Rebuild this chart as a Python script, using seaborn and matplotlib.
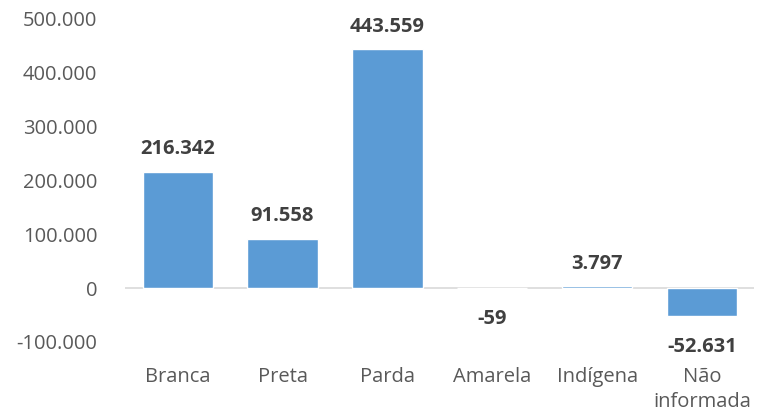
import matplotlib.pyplot as plt
import pandas as pd
import seaborn as sns
from matplotlib.ticker import FuncFormatter

sns.set_theme(style="white")
plt.rcParams['font.family'] = ['Open Sans', 'DejaVu Sans']

categorias = ["Branca", "Preta", "Parda", "Amarela", "Indígena", "Não\ninformada"]
valores = [216342, 91558, 443559, -59, 3797, -52631]
yticks = [-100000, 0, 100000, 200000, 300000, 400000, 500000]


def fmt_br(v, pos=None):
    s = f"{abs(int(round(v))):,}".replace(",", ".")
    return ("-" if v < 0 else "") + s


if __name__ == "__main__":
    df = pd.DataFrame({"cor": categorias, "valor": valores})

    fig = plt.figure(figsize=(7.59, 4.12), dpi=100)
    ax = fig.add_axes([0.165, 0.170, 0.829, 0.784])

    sns.barplot(x="cor", y="valor", data=df, color="#5B9BD5", saturation=1,
                width=0.67, ax=ax)

    ax.set_ylim(-100000, 500000)
    ax.set_yticks(yticks)
    ax.yaxis.set_major_formatter(FuncFormatter(fmt_br))
    ax.axhline(0, color="#D9D9D9", lw=1.2, zorder=0)

    for s in ax.spines.values():
        s.set_visible(False)
    ax.tick_params(axis="y", length=0, labelsize=14.5, labelcolor="#595959", pad=20)
    ax.tick_params(axis="x", length=0, labelsize=14.5, labelcolor="#595959", pad=18)
    ax.set_xlabel("")
    ax.set_ylabel("")
    for lbl in ax.get_xticklabels():
        lbl.set_linespacing(1.35)

    for i, v in enumerate(valores):
        if v >= 0:
            ax.annotate(fmt_br(v), (i, v), xytext=(0, 9), textcoords="offset points",
                        ha="center", va="bottom", fontsize=14.5, fontweight="bold",
                        color="#404040")
        else:
            ax.annotate(fmt_br(v), (i, v), xytext=(0, -15), textcoords="offset points",
                        ha="center", va="top", fontsize=14.5, fontweight="bold",
                        color="#404040")

    fig.savefig("out.png", dpi=100)
